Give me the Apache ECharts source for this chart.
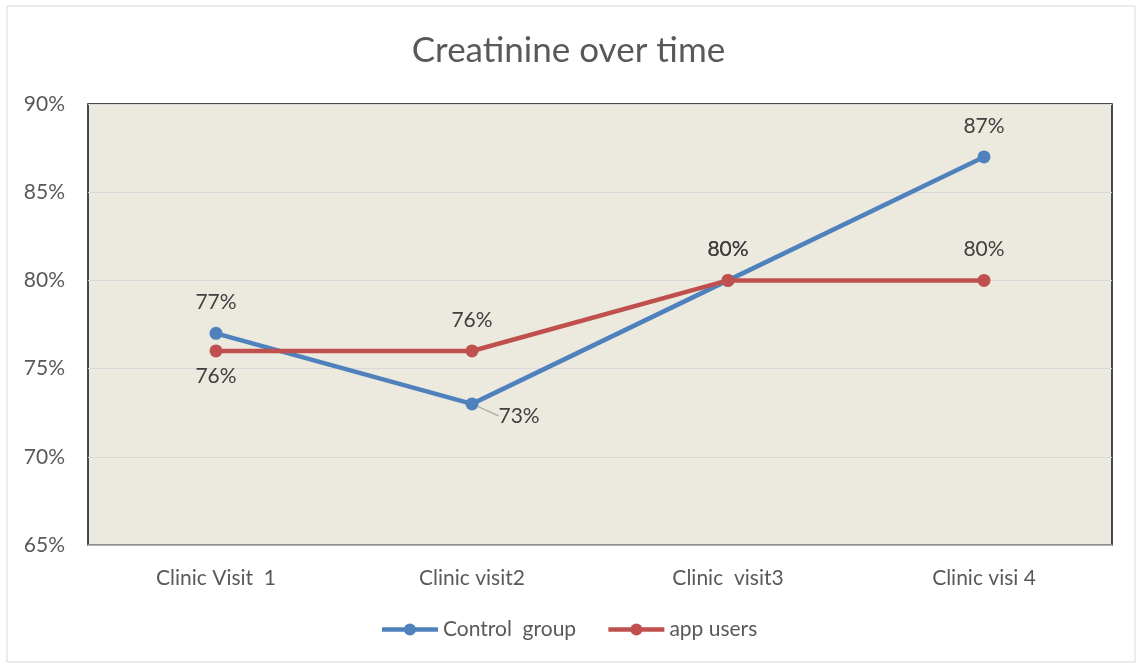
<!DOCTYPE html>
<html>
<head>
<meta charset="utf-8">
<script src="https://cdn.jsdelivr.net/npm/echarts@6/dist/echarts.min.js"></script>
<style>
  html, body { margin: 0; padding: 0; background: #ffffff; }
  #chart { width: 1137px; height: 664px; }
</style>
</head>
<body>
<div id="chart"></div>
<script>
// Creatinine share per clinic visit
const visits = ['Clinic Visit  1', 'Clinic visit2', 'Clinic  visit3', 'Clinic visi 4'];
const controlGroup = [77, 73, 80, 87];
const appUsers = [76, 76, 80, 80];
const seriesNames = ['Control  group', 'app users'];

// label placement for each point: 'top' or 'bottom'
const controlLabelPos = ['top', 'bottom', 'top', 'top'];
const appLabelPos = ['bottom', 'top', 'top', 'top'];

const FONT = 'Lato, "Liberation Sans", sans-serif';
const labelText = { fontFamily: FONT, fontSize: 21, color: '#404040' };

function buildData(values, positions, calloutIndex) {
  return values.map((v, i) => {
    const item = { value: v, label: { position: positions[i], distance: positions[i] === 'top' ? 14 : 8 } };
    if (i === calloutIndex) {
      item.label = { position: 'right', distance: 8 };
      item.labelLine = { show: true, lineStyle: { color: '#a6a6a6', width: 1.2 } };
    }
    return item;
  });
}

const chart = echarts.init(document.getElementById('chart'), null, { renderer: 'canvas' });

chart.setOption({
  animation: false,
  backgroundColor: '#ffffff',
  title: {
    text: 'Creatinine over time',
    left: 'center',
    top: 28,
    textStyle: { fontFamily: FONT, fontSize: 35, fontWeight: 'normal', color: '#595959' }
  },
  graphic: [{
    type: 'rect',
    silent: true,
    z: -10,
    shape: { x: 7, y: 6, width: 1128, height: 656 },
    style: { fill: 'none', stroke: '#d9d9d9', lineWidth: 1 }
  }],
  legend: {
    data: seriesNames,
    bottom: 19,
    left: 'center',
    itemWidth: 56,
    itemHeight: 15,
    itemGap: 30,
    lineStyle: { width: 4.5 },
    textStyle: { fontFamily: FONT, fontSize: 21, color: '#595959' }
  },
  grid: {
    left: 88, right: 25, top: 104, bottom: 119,
    show: true,
    backgroundColor: '#ECE9DF',
    borderColor: '#111111',
    borderWidth: 1.5
  },
  xAxis: {
    type: 'category',
    data: visits,
    boundaryGap: true,
    axisLine: { show: true, lineStyle: { color: '#a6a6a6', width: 1.5 } },
    axisTick: { show: false },
    axisLabel: { margin: 23, fontFamily: FONT, fontSize: 21, color: '#595959' }
  },
  yAxis: {
    type: 'value',
    min: 65, max: 90, interval: 5,
    axisLine: { show: false },
    axisTick: { show: false },
    splitLine: { lineStyle: { color: '#d9d9d9', width: 1.2 } },
    axisLabel: { margin: 23, formatter: '{value}%', fontFamily: FONT, fontSize: 21, color: '#595959' }
  },
  series: [
    {
      name: seriesNames[0],
      type: 'line',
      data: buildData(controlGroup, controlLabelPos, 1),
      color: '#4F81BD',
      lineStyle: { width: 4.5 },
      symbol: 'circle',
      symbolSize: 13,
      label: Object.assign({ show: true, formatter: '{c}%' }, labelText),
      labelLayout: function (p) {
        if (p.dataIndex === 1) return { dx: 12, dy: 12 };
        return {};
      },
      z: 2
    },
    {
      name: seriesNames[1],
      type: 'line',
      data: buildData(appUsers, appLabelPos, -1),
      color: '#C0504D',
      lineStyle: { width: 4.5 },
      symbol: 'circle',
      symbolSize: 13,
      label: Object.assign({ show: true, formatter: '{c}%' }, labelText),
      z: 3
    }
  ]
});
</script>
</body>
</html>
